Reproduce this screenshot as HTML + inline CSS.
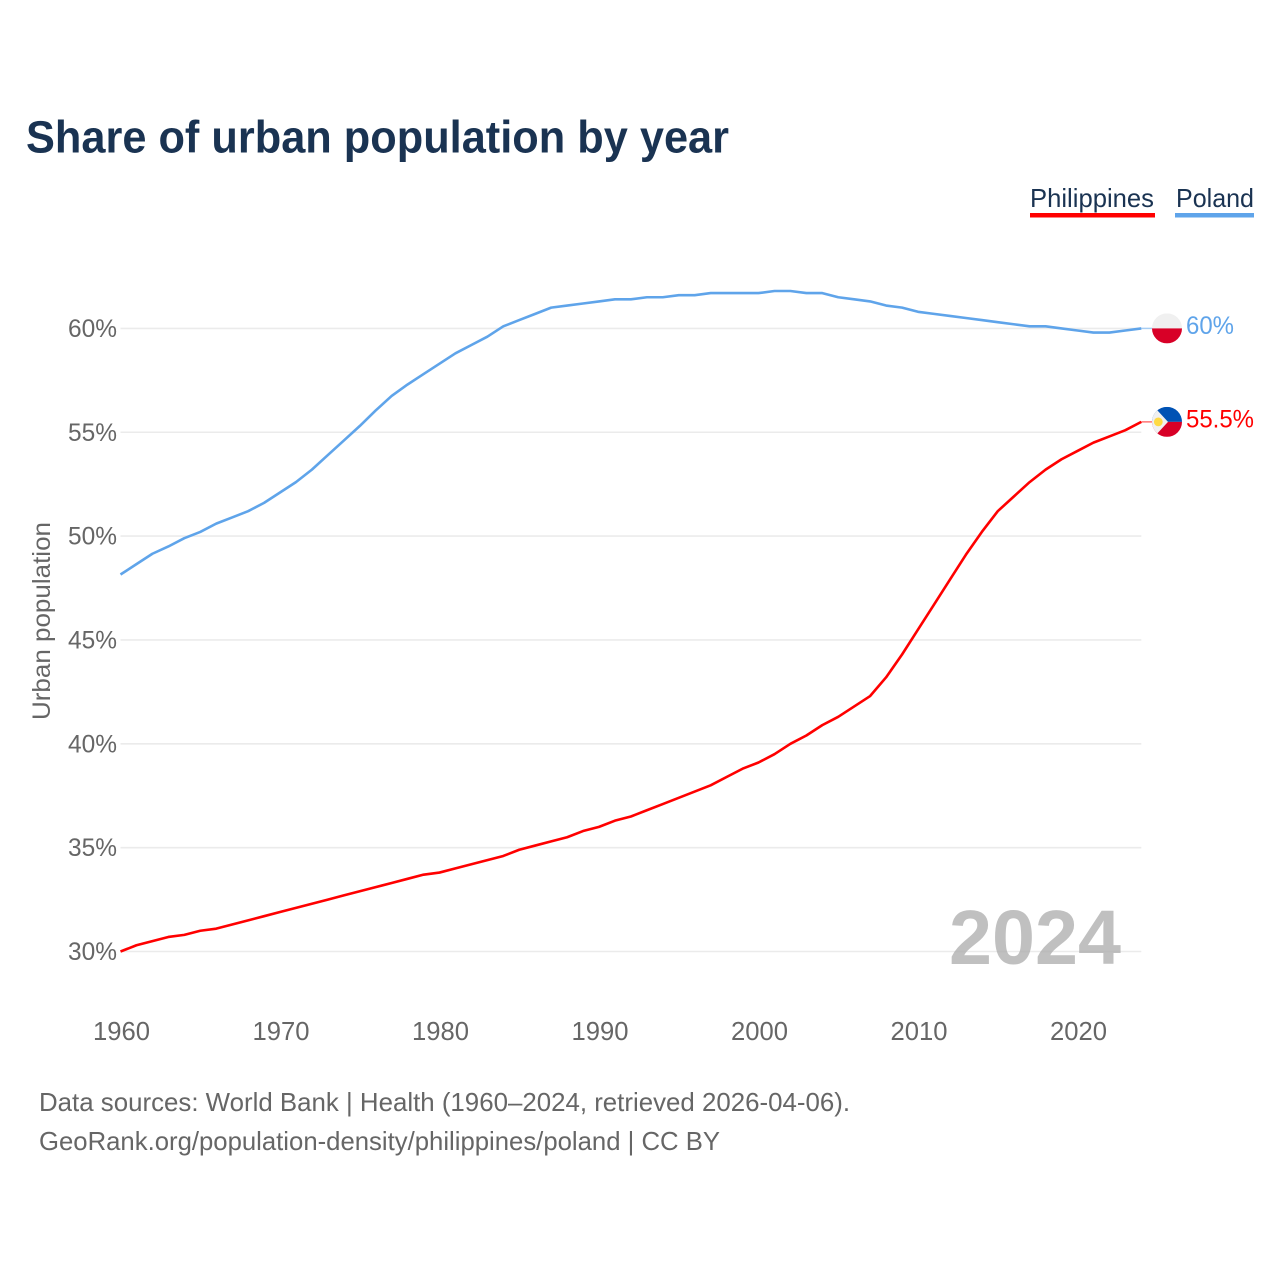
<!DOCTYPE html>
<html lang="en">
<head>
<meta charset="utf-8">
<title>Share of urban population by year</title>
<style>
html,body{margin:0;padding:0;background:#fff;}
svg{display:block;font-family:"Liberation Sans",sans-serif;}
</style>
</head>
<body>
<svg id="chart" xmlns="http://www.w3.org/2000/svg" width="1280" height="1280" viewBox="0 0 1280 1280">
  <rect width="1280" height="1280" fill="#ffffff"/>
  <text x="26" y="152.5" font-size="45" font-weight="700" fill="#1a3352" textLength="703" lengthAdjust="spacingAndGlyphs">Share of urban population by year</text>

  <g>
    <g>
      <text x="1030" y="207" font-size="26" fill="#1a3352" textLength="124" lengthAdjust="spacingAndGlyphs">Philippines</text>
      <rect x="1030" y="213" width="125" height="4.5" fill="#ff0000"/>
    </g>
    <g>
      <text x="1176" y="207" font-size="26" fill="#1a3352" textLength="78" lengthAdjust="spacingAndGlyphs">Poland</text>
      <rect x="1175" y="213" width="79" height="4.5" fill="#5fa4ea"/>
    </g>
  </g>

  <g id="grid"></g>
  <g id="y-axis"></g>
  <g id="x-axis"></g>
  <text transform="translate(50,621) rotate(-90)" text-anchor="middle" font-size="25" fill="#666666" textLength="198" lengthAdjust="spacingAndGlyphs">Urban population</text>

  <text id="year-watermark" x="949" y="964" font-size="77" font-weight="700" fill="#a8a8a8" fill-opacity="0.72" textLength="172" lengthAdjust="spacingAndGlyphs">2024</text>

  <g id="series"></g>

  <defs>
    <clipPath id="flag-clip"><circle cx="0" cy="0" r="15"/></clipPath>
  </defs>
  <g id="flag-poland">
    <g clip-path="url(#flag-clip)">
      <rect x="-15" y="-15" width="30" height="15" fill="#f0f0f0"/>
      <rect x="-15" y="0" width="30" height="15" fill="#d80027"/>
    </g>
  </g>
  <g id="flag-philippines">
    <g clip-path="url(#flag-clip)">
      <rect x="-15" y="-15" width="30" height="15" fill="#0052b4"/>
      <rect x="-15" y="0" width="30" height="15" fill="#d80027"/>
      <polygon points="-15,-15 -11,-13 1,0 -11,13 -15,15" fill="#f0f0f0"/>
      <circle cx="-8.7" cy="0" r="4.4" fill="#ffda44"/>
    </g>
  </g>
  <g id="end-labels"></g>

  <g>
    <text x="39" y="1111" font-size="26" fill="#666666" textLength="811" lengthAdjust="spacingAndGlyphs">Data sources: World Bank | Health (1960–2024, retrieved 2026-04-06).</text>
    <text x="39" y="1150" font-size="26" fill="#666666" textLength="681" lengthAdjust="spacingAndGlyphs">GeoRank.org/population-density/philippines/poland | CC BY</text>
  </g>
</svg>
<script>
const startYear = 1960;
const yearTicks = [1960, 1970, 1980, 1990, 2000, 2010, 2020];
const percentTicks = [30, 35, 40, 45, 50, 55, 60];
const polandValues = [48.15,48.65,49.15,49.5,49.9,50.2,50.6,50.9,51.2,51.6,52.1,52.6,53.2,53.9,54.6,55.3,56.05,56.75,57.3,57.8,58.3,58.8,59.2,59.6,60.1,60.4,60.7,61.0,61.1,61.2,61.3,61.4,61.4,61.5,61.5,61.6,61.6,61.7,61.7,61.7,61.7,61.8,61.8,61.7,61.7,61.5,61.4,61.3,61.1,61.0,60.8,60.7,60.6,60.5,60.4,60.3,60.2,60.1,60.1,60.0,59.9,59.8,59.8,59.9,60.0];
const philippinesValues = [30.0,30.3,30.5,30.7,30.8,31.0,31.1,31.3,31.5,31.7,31.9,32.1,32.3,32.5,32.7,32.9,33.1,33.3,33.5,33.7,33.8,34.0,34.2,34.4,34.6,34.9,35.1,35.3,35.5,35.8,36.0,36.3,36.5,36.8,37.1,37.4,37.7,38.0,38.4,38.8,39.1,39.5,40.0,40.4,40.9,41.3,41.8,42.3,43.2,44.3,45.5,46.7,47.9,49.1,50.2,51.2,51.9,52.6,53.2,53.7,54.1,54.5,54.8,55.1,55.5];

const NS = 'http://www.w3.org/2000/svg';
const xLeft = 120.5, xPerYear = 15.95;
const yBase = 951.5, yPerPercent = 20.77;
function xScale(year) { return xLeft + (year - startYear) * xPerYear; }
function yScale(pct) { return yBase - (pct - 30) * yPerPercent; }
function make(tag, parent, attrs, text) {
  const el = document.createElementNS(NS, tag);
  for (const k in attrs) el.setAttribute(k, attrs[k]);
  if (text !== undefined) el.textContent = text;
  parent.appendChild(el);
  return el;
}
const xEnd = xScale(startYear + polandValues.length - 1);

const gridGroup = document.getElementById('grid');
const yAxisGroup = document.getElementById('y-axis');
percentTicks.forEach(function (t) {
  const line = make('line', gridGroup, {x1: xLeft, x2: xEnd, y1: yScale(t), y2: yScale(t), stroke: '#ebebeb', 'stroke-width': 1.6});
  
  
  const label = make('text', yAxisGroup, {x: 117, y: yScale(t) + 8.5, 'text-anchor': 'end', 'font-size': 25, fill: '#666666', textLength: 49, lengthAdjust: 'spacingAndGlyphs'}, t + '%');
  
  
});

const xAxisGroup = document.getElementById('x-axis');
yearTicks.forEach(function (y) {
  const label = make('text', xAxisGroup, {x: xScale(y) + 1, y: 1040, 'text-anchor': 'middle', 'font-size': 26, fill: '#666666', textLength: 57, lengthAdjust: 'spacingAndGlyphs'}, String(y));
  
  
});

function pathFor(values) {
  return values.map(function (v, i) {
    return (i ? 'L' : 'M') + xScale(startYear + i).toFixed(2) + ' ' + yScale(v).toFixed(2);
  }).join(' ');
}
const seriesGroup = document.getElementById('series');
const endLabels = document.getElementById('end-labels');
function drawSeries(key, values, color) {
  const last = values[values.length - 1];
  const connector = make('line', seriesGroup, {x1: xEnd, x2: xEnd + 11, y1: yScale(last), y2: yScale(last), stroke: color, 'stroke-width': 1.5, 'stroke-opacity': 0.55});
  
  
  const path = make('path', seriesGroup, {d: pathFor(values), fill: 'none', stroke: color, 'stroke-width': 2.6, 'stroke-linejoin': 'round'});
  
  
  document.getElementById('flag-' + key).setAttribute('transform', 'translate(1167,' + yScale(last).toFixed(2) + ')');
  const txt = last + '%';
  const label = make('text', endLabels, {x: 1186, y: yScale(last) + 5.5, 'font-size': 25, fill: color, textLength: txt.length > 3 ? 68 : 48, lengthAdjust: 'spacingAndGlyphs'}, txt);
  
  
}
drawSeries('poland', polandValues, '#5fa4ea');
drawSeries('philippines', philippinesValues, '#ff0000');
</script>
</body>
</html>
